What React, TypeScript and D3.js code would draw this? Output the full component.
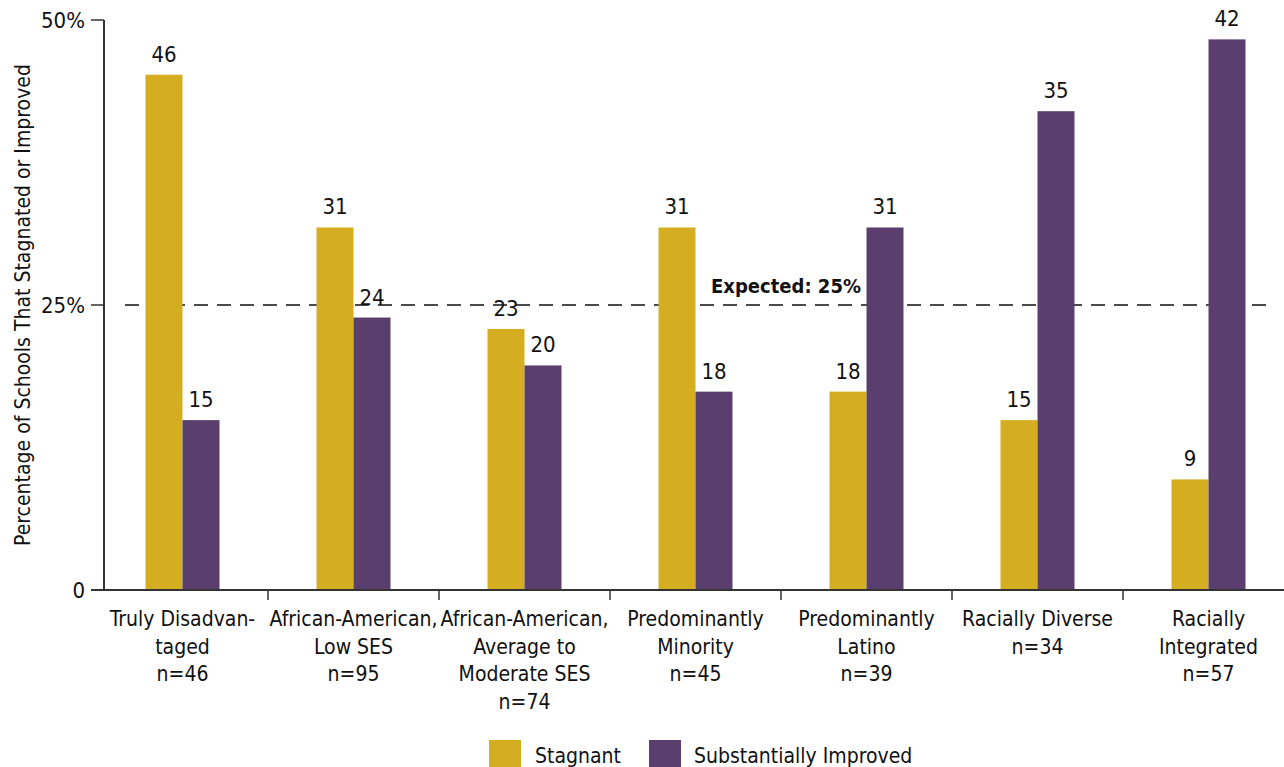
import React from "react";
import * as d3 from "d3";

const categories = [
  "Truly Disadvantaged",
  "African-American, Low SES",
  "African-American, Average to Moderate SES",
  "Predominantly Minority",
  "Predominantly Latino",
  "Racially Diverse",
  "Racially Integrated",
];
const categoryLines = [
  ["Truly Disadvan-", "taged", "n=46"],
  ["African-American,", "Low SES", "n=95"],
  ["African-American,", "Average to", "Moderate SES", "n=74"],
  ["Predominantly", "Minority", "n=45"],
  ["Predominantly", "Latino", "n=39"],
  ["Racially Diverse", "n=34"],
  ["Racially", "Integrated", "n=57"],
];
const stagnantBars = [45.2, 31.8, 22.9, 31.8, 17.4, 14.9, 9.7];
const improvedBars = [14.9, 23.9, 19.7, 17.4, 31.8, 42.0, 48.3];
const stagnantLabels = ["46", "31", "23", "31", "18", "15", "9"];
const improvedLabels = ["15", "24", "20", "18", "31", "35", "42"];
const yTicks = [0, 25, 50];
const yTickLabels = ["0", "25%", "50%"];
const series = ["Stagnant", "Substantially Improved"];
const expected = 25;

const W = 1284;
const H = 767;
const FONT = "'DejaVu Sans Condensed', 'Liberation Sans Narrow', Roboto, sans-serif";
const YELLOW = "#D5AD20";
const PURPLE = "#5A3E6D";
const AXIS = "#333";

export default function App() {
  const y = d3.scaleLinear().domain([0, 50]).range([590, 20]);
  const x = d3.scaleBand().domain(categories).range([97, 1294]).paddingInner(0).paddingOuter(0);
  const barW = 37;
  const sub = d3.scaleBand().domain(series).range([-barW, barW]);
  const colors = d3.scaleOrdinal<string, string>().domain(series).range([YELLOW, PURPLE]);

  return (
    <svg width={W} height={H} style={{ position: "absolute", left: 0, top: 0, background: "#fff" }} fontFamily={FONT}>
      {/* dashed expected line */}
      <line x1={125} x2={1272} y1={y(expected)} y2={y(expected)} stroke="#111" strokeWidth={1.5} strokeDasharray="14,9" />
      <text x={786} y={y(expected) - 12} textAnchor="middle" fontSize={20} fontWeight="bold" fill="#111">Expected: 25%</text>

      {/* bars */}
      {categories.map((c, i) => {
        const cx = (x(c) as number) + x.bandwidth() / 2;
        const vals = [stagnantBars[i], improvedBars[i]];
        const labs = [stagnantLabels[i], improvedLabels[i]];
        return (
          <g key={c}>
            {series.map((s, j) => (
              <g key={s}>
                <rect x={cx + (sub(s) as number)} y={y(vals[j])} width={sub.bandwidth()} height={y(0) - y(vals[j])} fill={colors(s)} />
                <text x={cx + (sub(s) as number) + sub.bandwidth() / 2} y={y(vals[j]) - 13} textAnchor="middle" fontSize={22} fill="#111">{labs[j]}</text>
              </g>
            ))}
            {categoryLines[i].map((ln, k) => (
              <text key={k} x={cx} y={626 + k * 27.5} textAnchor="middle" fontSize={21} fill="#111">{ln}</text>
            ))}
          </g>
        );
      })}

      {/* y axis */}
      <line x1={104} x2={104} y1={y(50)} y2={y(0)} stroke={AXIS} strokeWidth={2} />
      {yTicks.map((t, i) => (
        <g key={t}>
          <line x1={91} x2={104} y1={y(t)} y2={y(t)} stroke={AXIS} strokeWidth={1.5} />
          <text x={85} y={y(t)} dy="0.35em" textAnchor="end" fontSize={22} fill="#111">{yTickLabels[i]}</text>
        </g>
      ))}
      {/* x axis */}
      <line x1={91} x2={W} y1={y(0)} y2={y(0)} stroke={AXIS} strokeWidth={2} />
      {categories.slice(1).map((c) => (
        <line key={c} x1={x(c) as number} x2={x(c) as number} y1={y(0)} y2={y(0) + 10} stroke={AXIS} strokeWidth={1.5} />
      ))}

      {/* y title */}
      <text transform={`translate(30, 305) rotate(-90)`} textAnchor="middle" fontSize={21} fill="#111">Percentage of Schools That Stagnated or Improved</text>

      {/* legend */}
      <rect x={489} y={740} width={32} height={32} fill={YELLOW} />
      <text x={535} y={763} fontSize={21} fill="#111">{series[0]}</text>
      <rect x={649} y={740} width={32} height={32} fill={PURPLE} />
      <text x={694} y={763} fontSize={21} fill="#111">{series[1]}</text>
    </svg>
  );
}
